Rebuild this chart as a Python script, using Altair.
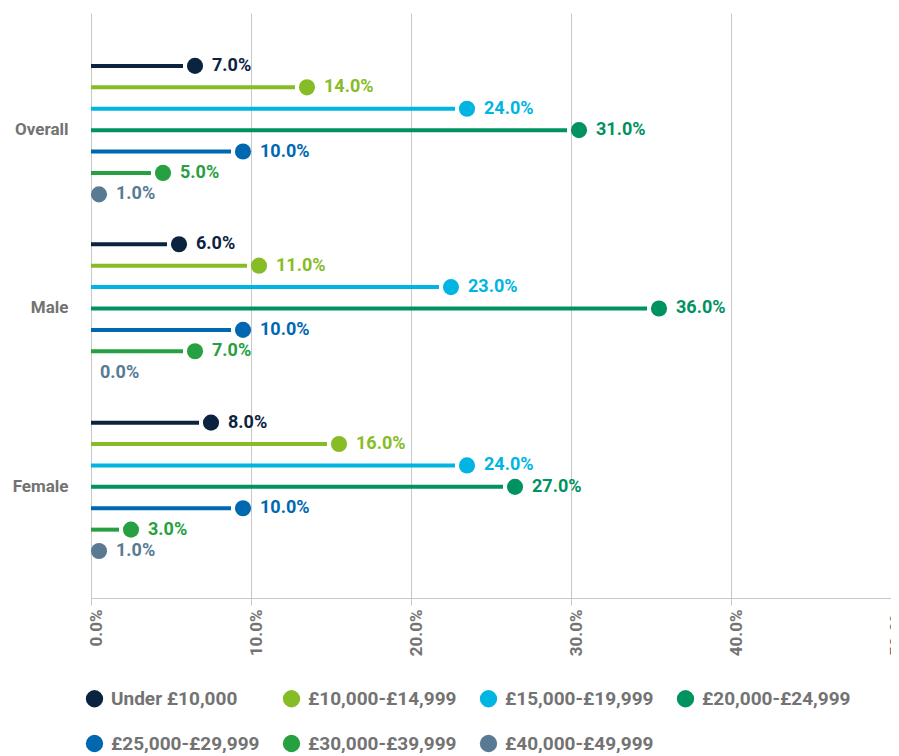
import altair as alt
import pandas as pd

groups = ["Overall", "Male", "Female"]
series = ["Under £10,000", "£10,000-£14,999", "£15,000-£19,999", "£20,000-£24,999",
          "£25,000-£29,999", "£30,000-£39,999", "£40,000-£49,999"]
overall = [7, 14, 24, 31, 10, 5, 1]
male = [6, 11, 23, 36, 10, 7, 0]
female = [8, 16, 24, 27, 10, 3, 1]
colors = ["#0c2340", "#86bc25", "#00b5e2", "#00925f", "#0067b1", "#26a040", "#587a93"]
x_ticks = [0, 10, 20, 30, 40, 50]

rows = []
for g, vals in zip(groups, [overall, male, female]):
    for s, v in zip(series, vals):
        rows.append({"group": g, "series": s, "value": v})
df = pd.DataFrame(rows)

FONT = "Roboto"
GRAY = "#737373"

y_enc = alt.Y("group:N", sort=groups,
              scale=alt.Scale(domain=groups, paddingInner=0.16, paddingOuter=0.22, align=0.538),
              axis=alt.Axis(title=None, domain=False, ticks=False, grid=False, labelPadding=23,
                            labelFont=FONT, labelFontSize=17, labelFontWeight="bold", labelColor=GRAY))
yoff_enc = alt.YOffset("series:N", sort=series,
                       scale=alt.Scale(domain=series, paddingInner=0, paddingOuter=0))
x_scale = alt.Scale(domain=[0, 50], nice=False)
x_axis = alt.Axis(title=None, values=x_ticks, labelAngle=270,
                  labelExpr="format(datum.value, '.1f') + '%'",
                  labelFont=FONT, labelFontSize=17, labelFontWeight="bold", labelColor=GRAY,
                  labelPadding=4, labelOffset=5, grid=True, gridColor="#c8c8c8", gridWidth=1,
                  domainColor="#c8c8c8", tickColor="#c8c8c8", tickSize=7)

color_scale = alt.Scale(domain=series, range=colors)

base = alt.Chart(df).encode(y=y_enc, yOffset=yoff_enc)

rules = base.transform_filter("datum.value >= 2").transform_calculate(start="0").mark_rule(
    strokeWidth=4, x2Offset=-20, strokeCap="butt"
).encode(
    x=alt.X("start:Q", scale=x_scale, axis=x_axis),
    x2="value:Q",
    color=alt.Color("series:N", sort=series, scale=color_scale),
)

points = base.transform_filter("datum.value > 0").mark_circle(size=260, opacity=1, xOffset=-8).encode(
    x=alt.X("value:Q", scale=x_scale),
    color=alt.Color("series:N", sort=series, scale=color_scale,
                    legend=alt.Legend(title=None, orient="none", legendX=-6, legendY=676, columns=4,
                                      direction="horizontal",
                                      symbolType="circle", symbolSize=300, symbolStrokeWidth=0,
                                      labelFont=FONT,
                                      labelFontSize=19, labelFontWeight="bold", labelColor=GRAY,
                                      columnPadding=22, rowPadding=25, labelOffset=7)),
)

labels = base.transform_calculate(label="format(datum.value, '.1f') + '%'").mark_text(
    align="left", baseline="middle", dx=9, font=FONT, fontSize=18, fontWeight="bold"
).encode(
    x=alt.X("value:Q", scale=x_scale),
    text="label:N",
    color=alt.Color("series:N", sort=series, scale=color_scale),
)

chart = alt.layer(rules, points, labels).properties(
    width=800, height=585,
    autosize=alt.AutoSizeParams(type="none"),
    padding={"left": 83, "top": 5, "right": 0, "bottom": 155},
).configure_view(stroke=None)

chart.save("out.html", embed_options={"renderer": "svg", "actions": False})
